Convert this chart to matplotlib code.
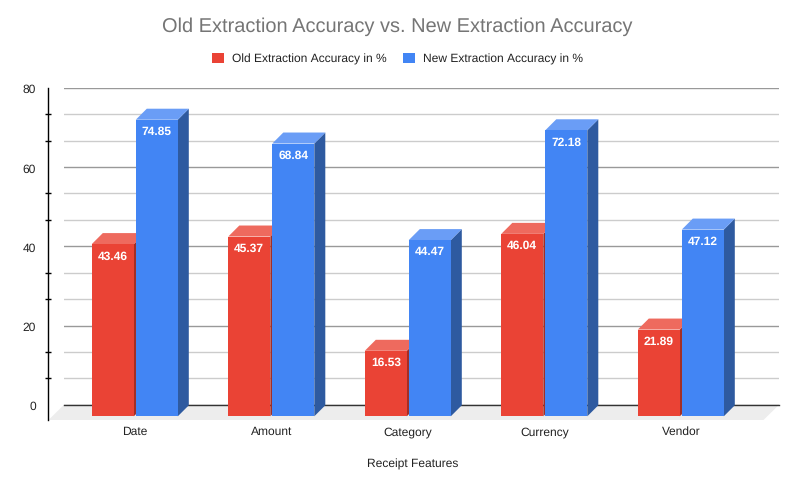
import matplotlib
matplotlib.use('Agg')
import matplotlib.pyplot as plt
from matplotlib.patches import Patch, Polygon

plt.rcParams['font.family'] = ['Liberation Sans', 'DejaVu Sans']
plt.rcParams['text.hinting'] = 'no_hinting'
plt.rcParams['text.hinting_factor'] = 1

categories = ['Date', 'Amount', 'Category', 'Currency', 'Vendor']
old_accuracy = [43.46, 45.37, 16.53, 46.04, 21.89]
new_accuracy = [74.85, 68.84, 44.47, 72.18, 47.12]
major_ticks = [0, 20, 40, 60, 80]
minor_ticks = [20 * i / 3 for i in range(13) if i % 3 != 0]

W, H = 799, 485
# plot box of the back wall, in pixels
LEFT, RIGHT, TOP, BOTTOM = 64, 779, 88.8, 405.8
CAT_STEP = 136.5
FIRST_CAT = 134.8
PX_PER_UNIT = (BOTTOM - TOP) / 80
DX = 11 / CAT_STEP
DY = 11 / PX_PER_UNIT
BASE = -11.5 / PX_PER_UNIT
BAR_W = 42 / CAT_STEP

RED = ('#EA4335', '#EE6A5E', '#A32E25')
BLUE = ('#4285F4', '#6A9DF6', '#2E5AA0')

fig = plt.figure(figsize=(W / 100, H / 100), dpi=100)
ax = fig.add_axes([LEFT / W, 1 - BOTTOM / H, (RIGHT - LEFT) / W, (BOTTOM - TOP) / H])
ax.set_xlim((LEFT - FIRST_CAT) / CAT_STEP, (RIGHT - FIRST_CAT) / CAT_STEP)
ax.set_ylim(0, 80)


def draw_bar(x0, value, colors):
    x1 = x0 + BAR_W
    top = BASE + value
    kw = dict(clip_on=False, zorder=4, linewidth=0)
    ax.add_patch(Polygon([(x1, BASE), (x1 + DX, BASE + DY), (x1 + DX, top + DY), (x1, top)],
                         facecolor=colors[2], **kw))
    ax.add_patch(Polygon([(x0, top), (x0 + DX, top + DY), (x1 + DX, top + DY), (x1, top)],
                         facecolor=colors[1], **kw))
    ax.add_patch(Polygon([(x0, BASE), (x1, BASE), (x1, top), (x0, top)],
                         facecolor=colors[0], **kw))
    ax.annotate(f'{value:.2f}', ((x0 + x1) / 2, top), xytext=(0, -8.1), textcoords='offset points',
                ha='center', va='center', color='white', fontsize=8.64, fontweight='bold',
                zorder=6, annotation_clip=False)


# floor
floor_y = -(421 - BOTTOM) / PX_PER_UNIT
floor_dx = 15.5 / CAT_STEP
xl, xr = ax.get_xlim()
ax.add_patch(Polygon([(xl - floor_dx, floor_y), (xl, 0), (xr, 0), (xr - floor_dx, floor_y)],
                     facecolor='#EDEDED', linewidth=0, clip_on=False, zorder=1))

# gridlines on the back wall
ax.set_yticks(major_ticks)
ax.set_yticks(minor_ticks, minor=True)
ax.grid(True, axis='y', which='major', color='#999999', linewidth=1)
ax.grid(True, axis='y', which='minor', color='#CCCCCC', linewidth=1)
ax.set_axisbelow(True)
ax.axhline(0, color='#333333', linewidth=1, zorder=2, clip_on=False)

for i in range(len(categories)):
    gap = 2 / CAT_STEP
    draw_bar(i - BAR_W - gap / 2, old_accuracy[i], RED)
    draw_bar(i + gap / 2, new_accuracy[i], BLUE)

# axes
for side in ['top', 'right', 'bottom']:
    ax.spines[side].set_visible(False)
ax.spines['left'].set_position(('outward', 16.2 * 0.72))
ax.spines['left'].set_bounds(floor_y, 80)
ax.spines['left'].set_color('black')
ax.spines['left'].set_linewidth(1)
ax.tick_params(axis='y', which='major', length=0, pad=8.5, labelsize=8.64, labelcolor='#222222')
ax.tick_params(axis='y', which='minor', length=4.3, width=1, direction='inout', color='black')

ax.set_xticks(range(len(categories)), categories)
ax.tick_params(axis='x', length=0, pad=15, labelsize=8.64, labelcolor='#222222')
ax.set_xlabel('Receipt Features', fontsize=8.64, color='#222222', labelpad=15,
              x=(413 - LEFT) / (RIGHT - LEFT))

fig.text(397.5 / W, 1 - 26.5 / H, 'Old Extraction Accuracy vs. New Extraction Accuracy',
         ha='center', va='center', fontsize=14.4, color='#757575')

handles = [Patch(facecolor=RED[0], label='Old Extraction Accuracy in %'),
           Patch(facecolor=BLUE[0], label='New Extraction Accuracy in %')]
fig.legend(handles=handles, loc='center', bbox_to_anchor=(397.5 / W, 1 - 59.5 / H), ncol=2,
           frameon=False, fontsize=8.64, handlelength=1, handleheight=1, handletextpad=0.67,
           columnspacing=1.42, borderpad=0, borderaxespad=0, labelcolor='#222222')

fig.savefig('out.png', dpi=100)
